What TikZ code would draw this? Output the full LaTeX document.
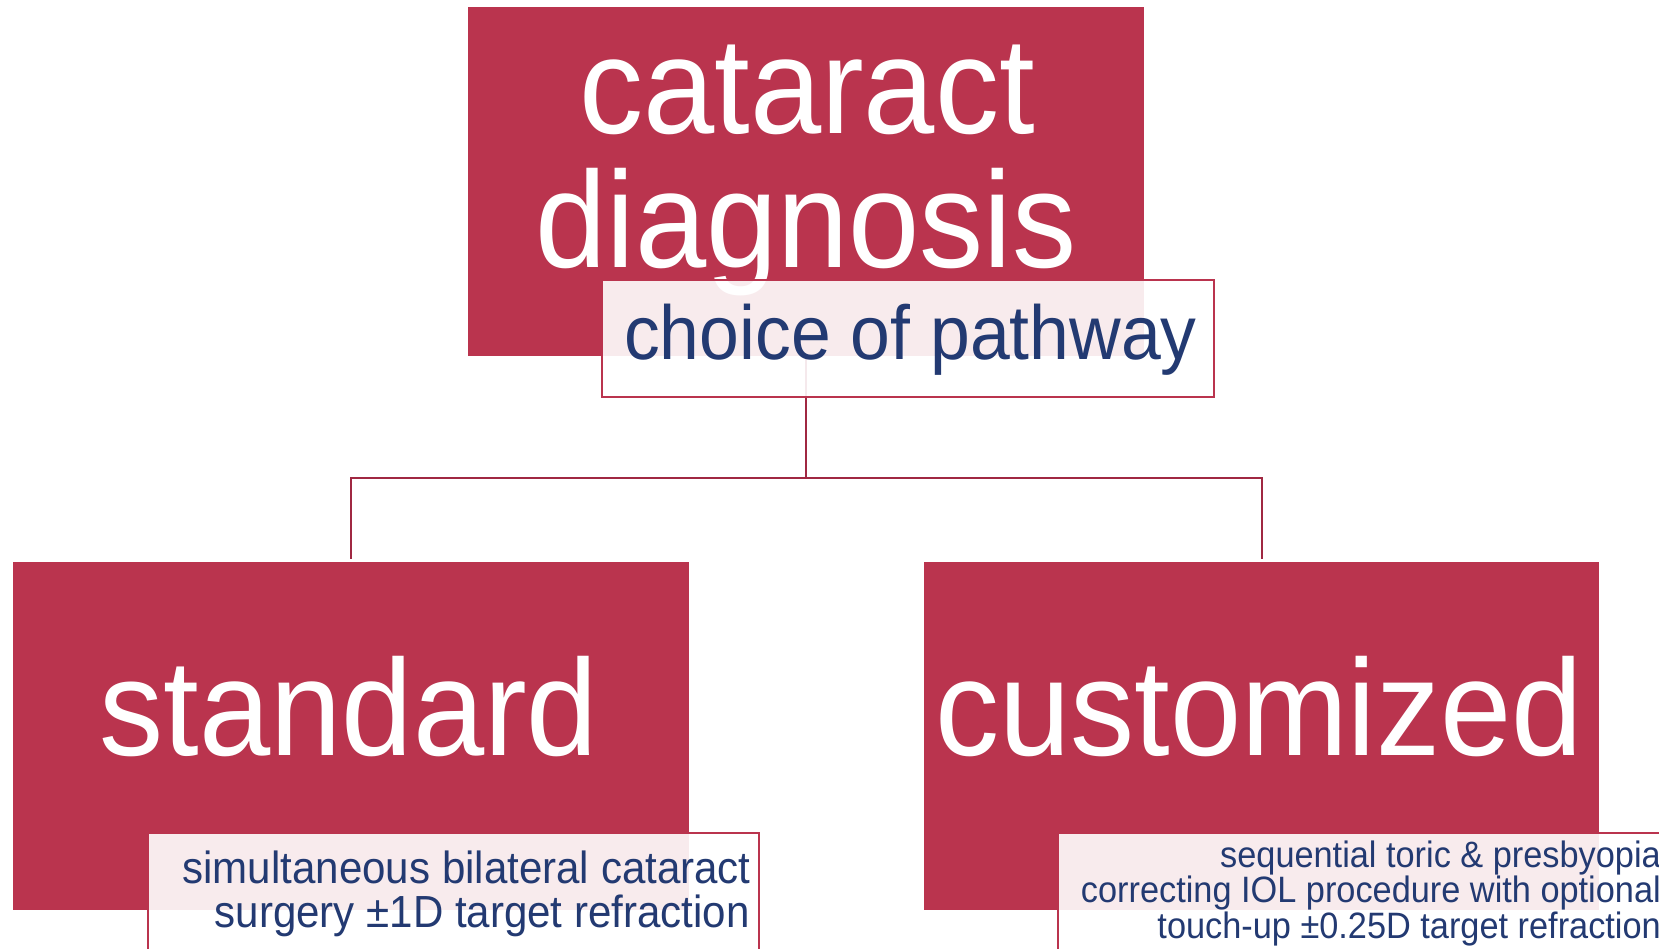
\documentclass[tikz,border=0pt]{standalone}
\usepackage{fontspec}
\setmainfont{Liberation Sans}
\newfontfamily\cfont[FakeStretch=0.935]{Liberation Sans}
\definecolor{crimson}{HTML}{BA344E}
\definecolor{navy}{HTML}{233A72}
\definecolor{linkred}{HTML}{A02842}
\tikzset{
  redbox/.style={rectangle, fill=crimson, draw=none, inner sep=0pt},
  notebox/.style={rectangle, fill=white, fill opacity=0.9, draw=crimson, line width=1.8pt, inner sep=0pt},
  bigtext/.style={text=white, inner sep=0pt, anchor=base, font={\cfont\fontsize{137}{137}\selectfont}},
  midtext/.style={text=navy, inner sep=0pt, anchor=base, font={\cfont\fontsize{76.5}{76.5}\selectfont}},
  lefttext/.style={text=navy, inner sep=0pt, anchor=base east, font={\cfont\fontsize{45}{44}\selectfont}},
  righttext/.style={text=navy, inner sep=0pt, anchor=base east, font={\cfont\fontsize{36.7}{36}\selectfont}},
  conn/.style={draw=linkred, line width=2pt}
}
\begin{document}
\begin{tikzpicture}[x=1pt,y=-1pt]
\useasboundingbox (0,0) rectangle (1659,948);
\clip (0,0) rectangle (1659,948);
% main boxes
\node[redbox, minimum width=676pt, minimum height=349pt] (top) at (806,181.5) {};
\node[redbox, minimum width=676pt, minimum height=348pt] (left) at (351,736) {};
\node[redbox, minimum width=675pt, minimum height=348pt] (right) at (1261.5,736) {};
% big labels
\node[bigtext] (t1) at (807,133) {cataract};
\node[bigtext] (t2) at (806,267) {diagnosis};
\node[bigtext] (ls) at (349,755) {standard};
\node[bigtext] (rs) at (1259,755) {customized};
% connectors
\coordinate (j) at (806,478);
\draw[conn] (top.south) -- (j);
\draw[conn, shorten >=3pt] (j) -| (left.north);
\draw[conn, shorten >=3pt] (j) -| (right.north);
% note boxes
\node[notebox, minimum width=612pt, minimum height=117pt] (choice) at (908,338.5) {};
\node[notebox, minimum width=611pt, minimum height=160pt] (lnote) at (453.5,913) {};
\node[notebox, minimum width=611pt, minimum height=160pt] (rnote) at (1363.5,913) {};
% note texts
\node[midtext] (c1) at (910.5,359) {choice of pathway};
\node[lefttext] (l1) at (751,883) {simultaneous bilateral cataract};
\node[lefttext] (l2) at (750,927) {surgery ±1D target refraction};
\node[righttext] (r1) at (1661,867) {sequential toric \& presbyopia};
\node[righttext] (r2) at (1661,902) {correcting IOL procedure with optional};
\node[righttext] (r3) at (1661,938) {touch-up ±0.25D target refraction};
\end{tikzpicture}
\end{document}
